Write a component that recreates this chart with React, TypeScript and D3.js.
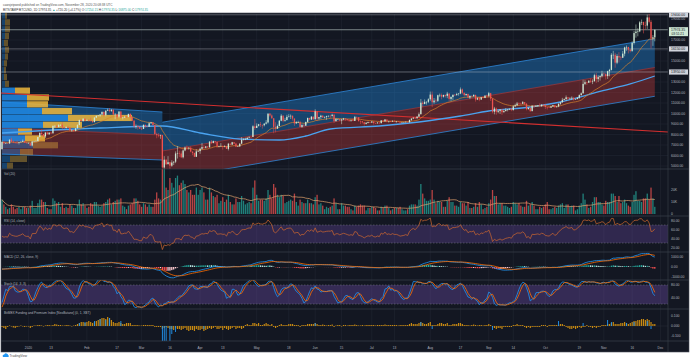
import React from "react";
import * as d3 from "d3";

// ---------------- DATA ----------------
const START = "2019-12-18";
const FIRST_OPEN = 6610;
// closes Nov 15 - Dec 17 2019 (indicator warm-up, not drawn)
const warmupCloses = [8480,8500,8450,8180,8120,8080,7620,7280,7330,6910,7130,7170,7520,7430,7760,7560,
  7420,7320,7300,7200,7400,7540,7510,7520,7340,7220,7200,7190,7250,7070,7110,6880,6610];

const closes = [
  7280,7150,7190,7145,7510,7320,7250,7200,7190,7250,7300,7390,7220,7170,
  7180,6950,7340,7350,7355,7760,8150,8050,7820,8190,8020,8180,8110,8810,8820,8720,8900,8910,8700,8630,8720,8660,8390,8430,8330,8590,8900,9390,9290,9500,9340,
  9380,9330,9290,9180,9610,9760,9800,9900,10160,9860,10270,10350,10240,10370,9900,9930,9700,10180,9600,9610,9690,9670,9960,9660,9310,8790,8810,8710,8550,
  8530,8920,8760,8750,9070,9150,8900,8040,7940,7900,7940,4860,5600,5170,5360,5030,5330,5410,6190,6200,6190,5830,6480,6760,6680,6740,6370,6250,5880,6390,6420,
  6640,6800,6740,6860,6780,7330,7200,7370,7300,6870,6890,6920,6850,6860,6630,7120,7030,7260,7130,6850,6860,7130,7500,7540,7550,7700,7780,7760,8780,8620,
  8830,8970,8900,8880,9030,9150,9990,9810,9540,8730,8560,8810,9310,9790,9310,9380,9680,9730,9780,9510,9060,9170,9180,8720,8900,8840,9200,9570,9430,9700,9450,
  10200,9520,9660,9790,9620,9670,9750,9780,9770,9880,9270,9470,9480,9340,9430,9520,9460,9380,9300,9360,9290,9680,9630,9290,9250,9160,9010,9110,9190,9140,
  9230,9090,9060,9130,9080,9340,9250,9430,9240,9290,9230,9300,9240,9250,9200,9130,9150,9170,9210,9160,9390,9520,9600,9540,9700,9930,11030,10910,11110,11110,11350,
  11800,11070,11230,11200,11740,11770,11600,11760,11680,11890,11390,11570,11780,11770,11860,11900,12290,11970,11750,11860,11520,11680,11650,11770,11330,11460,11330,11540,11480,11710,11680,
  11930,11410,10170,10470,10160,10250,10370,10120,10230,10340,10390,10440,10330,10680,10790,10950,10940,10930,11080,10920,10420,10530,10230,10740,10690,10730,10770,10700,10840,10780,
  10620,10570,10550,10670,10790,10600,10670,10920,11060,11300,11380,11540,11430,11430,11500,11330,11370,11500,11750,11920,12820,12980,12930,13120,13030,13070,13650,13280,13460,13560,13800,
  13750,13560,14030,14150,15590,15590,14840,15480,15330,15310,15700,16290,16340,16080,15960,16720,17660,17800,17820,18680,18710,18420,18370,19150,18730,17150,17254,17974.35
];

const highs = [
  7430,7380,7220,7190,7520,7690,7440,7270,7430,7270,7370,7520,7400,7300,
  7250,7210,7400,7400,7500,7790,8200,8460,8050,8200,8280,8200,8190,8880,8900,8860,9000,8980,9180,8700,8760,8800,8660,8500,8440,8600,8980,9400,9420,9560,9530,
  9440,9470,9600,9290,9640,9840,9860,9950,10170,10170,10300,10470,10520,10390,10380,10050,9970,10230,10250,9680,9780,9700,9980,10020,9660,9380,8960,8900,8770,
  8760,8950,8910,8840,9150,9170,9190,8910,8170,8130,7980,7960,5940,5630,5940,5360,5550,5440,6390,6900,6460,6400,6590,6850,6960,6790,6860,6290,6260,6600,6520,
  6740,7200,7000,6910,6880,7350,7470,7420,7390,7310,6940,7180,6920,6980,6920,7200,7150,7300,7270,7210,6940,7150,7740,7630,7700,7720,7800,7790,8880,9470,
  9060,9010,9190,8950,9080,9370,9990,10040,9920,9570,9170,8950,9390,9940,9840,9590,9880,9940,9910,9820,9560,9270,9310,9300,8980,9010,9220,9620,9600,9740,9700,
  10400,10230,9680,9880,9850,9720,9790,9800,9880,9980,9950,9560,9500,9490,9500,9580,9560,9480,9390,9400,9420,9770,9700,9670,9330,9280,9200,9190,9230,9210,
  9290,9260,9130,9190,9140,9370,9360,9460,9430,9310,9300,9340,9350,9280,9260,9210,9190,9200,9240,9230,9420,9540,9650,9630,9740,10100,11380,11200,11340,11160,11450,
  12090,12100,11480,11420,11790,11900,11910,11800,11810,12060,11940,11640,11800,11860,11970,11930,12480,12380,11990,11880,11900,11710,11710,11830,11790,11540,11590,11560,11580,11720,11790,
  12060,11960,11460,10630,10560,10350,10400,10430,10350,10520,10400,10480,10570,10790,10940,11100,11050,11030,11180,11080,10990,10580,10550,10790,10770,10780,10790,10960,10860,10850,
  10930,10620,10600,10700,10800,10800,10690,10960,11110,11490,11430,11720,11550,11550,11630,11540,11400,11530,11820,12000,13210,13180,13030,13170,13340,13250,13790,13860,13650,13660,14070,
  13900,13840,14070,14250,15750,15960,15780,15650,15840,15480,15950,16360,16480,16340,16150,16880,17860,18480,18120,18800,18950,18750,18770,19420,19480,18910,17470,17974.35
];

const lows = [
  6560,7040,7100,7110,7130,7260,7170,7130,7150,7060,7250,7280,7200,7150,
  7150,6900,6860,7270,7320,7350,7730,7880,7760,7660,8000,7970,8050,8100,8590,8600,8680,8810,8480,8520,8560,8630,8300,8240,8270,8300,8580,8880,9240,9200,9240,
  9310,9230,9230,9110,9160,9560,9720,9680,9880,9720,9720,10250,10100,10150,9840,9460,9460,9600,9600,9420,9580,9570,9650,9510,9270,8630,8550,8460,8530,
  8420,8520,8660,8680,8740,9010,8860,8000,7640,7730,7590,4410,3850,5090,5180,4440,4930,5090,5270,5710,5860,5750,5720,6400,6520,6550,6300,6030,5870,5860,6340,
  6160,6580,6620,6680,6700,6780,7090,7150,7110,6750,6770,6850,6560,6780,6620,6480,6990,7030,7080,6800,6820,6850,7080,7430,7460,7530,7660,7680,7740,8440,
  8620,8760,8710,8560,8770,8950,9050,9700,9510,8120,8200,8550,8780,9260,9150,9220,9330,9620,9470,9320,8820,9020,9090,8700,8640,8700,8820,9110,9340,9380,9390,
  9420,9270,9390,9460,9590,9530,9400,9640,9570,9700,9100,9240,9380,9270,8980,9370,9300,9280,9210,9220,9280,9280,9580,9220,9000,9050,8850,8960,9060,9090,
  9090,8940,9040,9050,8990,9060,9220,9230,9160,9130,9190,9200,9200,9120,9170,9010,9090,9120,9120,9140,9150,9290,9460,9480,9520,9650,9920,10600,10880,10850,10990,
  11200,10600,10930,11000,11100,11560,11350,11520,11520,11460,11150,11190,11280,11660,11680,11700,11840,11830,11600,11690,11490,11370,11520,11600,11130,11280,11170,11290,11440,11460,11560,
  11530,11180,10020,9920,9880,10030,9960,9870,10100,10200,10200,10330,10220,10270,10640,10700,10770,10820,10890,10800,10300,10370,10150,10200,10560,10640,10620,10680,10640,10680,
  10430,10380,10520,10540,10640,10550,10580,10600,10830,11050,11270,11200,11300,11310,11270,11220,11300,11360,11400,11700,11900,12700,12720,12900,12910,12800,13050,12920,12990,13130,13430,
  13610,13230,13290,13540,14100,15180,14360,14700,14850,15080,15280,15450,15980,15720,15810,15870,16570,17220,17350,17740,18420,17630,18000,18050,18580,16200,16440,16875
];

// daily volume (thousand BTC)
const volumes = [
  12,8,6,4,5,8,6,4,5,6,4,6,6,5,
  5,7,11,5,5,9,12,12,10,10,5,4,4,13,11,9,10,6,9,5,6,5,8,7,5,5,8,12,8,9,7,
  5,6,9,8,10,10,7,6,7,9,10,12,13,8,10,11,12,12,13,7,6,4,7,8,9,13,13,11,8,
  6,9,8,6,8,6,6,12,18,13,12,38,42,22,20,30,26,22,30,32,24,26,28,25,20,18,20,16,16,22,16,
  20,22,18,12,12,22,18,15,14,16,9,11,14,10,12,16,10,8,8,13,10,10,15,11,8,9,10,9,22,28,
  16,11,12,12,11,13,20,16,13,25,22,16,14,16,15,9,10,11,12,11,17,10,7,12,10,9,9,12,9,9,8,
  14,16,8,9,7,4,6,5,6,7,13,9,4,4,9,7,7,6,6,4,3,7,6,7,8,7,7,3,5,5,
  6,6,5,3,3,6,5,7,7,5,3,4,5,5,5,6,4,3,3,4,7,8,8,8,7,12,25,17,13,11,11,
  12,20,12,9,11,10,10,6,6,11,14,10,10,7,7,6,10,9,9,7,10,5,5,6,9,6,10,8,4,5,6,
  9,12,20,15,15,8,9,9,7,7,6,5,6,10,9,8,9,7,6,6,11,7,8,10,7,4,4,6,5,6,
  8,10,4,4,5,6,5,7,8,9,5,8,8,6,7,7,3,4,7,9,17,12,8,5,6,10,14,14,10,10,8,
  7,11,10,10,17,17,15,10,15,9,10,12,9,7,6,10,16,19,11,11,10,13,13,17,12,22,13,6
];

// BitMEX funding rate (thousandths of a percent)
const funding = [
  -10,-20,-30,-10,5,-5,-15,-20,-10,-5,5,-5,-10,-5,
  -5,-20,-10,5,5,10,10,5,-5,5,10,10,5,10,20,15,10,10,5,5,10,10,5,-5,5,10,20,30,40,40,30,
  40,50,40,30,40,50,60,70,80,80,70,90,80,60,40,30,30,40,30,20,20,30,30,30,10,10,10,10,5,
  5,10,10,10,10,10,10,-10,-10,-10,-10,-30,-20,-10,-20,-30,-30,-40,-20,-30,-30,-40,-30,-20,-40,-50,-40,-40,-50,-30,-40,
  -40,-30,-50,-40,-30,-20,-30,-20,-10,-30,-30,-20,-40,-20,-30,-40,-30,-20,-10,-30,-20,-20,-30,-20,10,20,10,10,30,30,
  20,30,10,10,20,30,20,10,20,-10,-20,-10,10,20,10,10,10,20,20,20,10,10,10,-10,10,10,10,20,20,20,20,
  30,20,10,10,15,10,5,10,10,15,-10,5,10,10,-5,10,10,5,10,10,10,15,10,5,5,10,5,10,10,10,
  10,10,5,10,10,10,10,15,10,10,10,10,10,10,5,10,10,10,10,10,20,30,20,20,20,30,40,30,20,20,30,
  40,10,10,10,20,30,30,20,20,30,10,10,20,20,20,30,30,20,10,10,10,5,10,15,10,5,10,10,5,10,10,
  20,10,-10,-20,-30,-20,-20,-30,-10,-10,-10,-10,-10,10,10,20,10,10,10,-10,-20,-10,-20,-10,-10,-10,-10,-10,10,10,
  10,-10,10,10,10,10,10,10,20,20,10,-10,-20,-30,-30,-20,-30,-20,-10,-20,-10,-10,10,-10,-10,-20,-10,-20,-10,-10,10,
  10,10,20,20,30,40,20,20,20,30,30,40,30,20,30,40,50,50,60,60,70,70,60,70,60,40,20,20
];

// premium index (sparse)
const premiumDates = ["2020-01-28","2020-01-31","2020-02-05","2020-02-08","2020-02-11","2020-02-13","2020-02-19",
  "2020-03-12","2020-03-13","2020-03-14","2020-03-16","2020-03-17","2020-03-19","2020-04-03","2020-06-01",
  "2020-07-27","2020-08-02","2020-09-03","2020-10-08","2020-10-21","2020-11-03","2020-11-05","2020-11-13",
  "2020-11-17","2020-11-24","2020-11-26"];
const premiumValues = [30,40,50,70,60,80,50,-180,-200,-170,-150,-80,-60,-30,30,40,-30,-40,50,30,60,40,30,40,50,-30];

// visible-range volume profile
const PROFILE_STEP = 650;
const profileLow = [4700,5350,6000,6650,7300,7950,8600,9250,9900,10550,11200,11850,12500,13150,13800,14450,15100,15750,16400,17050,17700,18350,19000];
const profileUp =   [5,8,18,31,23,16,41,66,40,25,25,13,3,2,2,2,3,3,2,3,3,3,3];
const profileDown = [6,17,13,25,20,14,39,64,30,21,22,15,4,3,2,3,3,4,4,4,5,5,2];
const valueArea = [7300, 12500];

// long moving average (as drawn)
const maLongDates = ["2019-12-18","2020-01-14","2020-02-08","2020-03-12","2020-04-01","2020-04-22","2020-05-13","2020-05-27",
  "2020-06-09","2020-07-05","2020-07-26","2020-08-17","2020-09-01","2020-09-23","2020-10-09","2020-10-31","2020-11-15","2020-11-28"];
const maLongValues = [8143,8429,8619,8810,8143,7571,7476,7857,8524,8810,9190,9762,10238,10619,11095,12143,12810,13571];

// regression channels
const channelFrom = ["2019-12-18","2020-03-12"];
const channelTo = ["2020-03-12","2020-11-28"];
const channelUpper = [[11095,10140],[9170,17120]];
const channelMid = [[8620,7950],[6429,14381]];
const channelLower = [[6140,5570],[3690,11640]];

const trendDates = ["2019-12-17","2020-12-05"];
const trendPrices = [11952, 8238];

const levelPrices = [19400, 16150, 13950];
const levelLabels = ["19400.00", "16150.00", "13950.00"];

const priceTicks = [5000,6000,7000,8000,9000,10000,11000,12000,13000,14000,15000,16000,17000,18000,19000];
const hiddenPriceTicks = [14000,16000,18000];
const timeTicks = [["2020-01-01","2020"],["2020-01-13","13"],["2020-02-01","Feb"],["2020-02-17","17"],["2020-03-01","Mar"],
  ["2020-03-16","16"],["2020-04-01","Apr"],["2020-04-13","13"],["2020-05-01","May"],["2020-05-18","18"],["2020-06-01","Jun"],
  ["2020-06-15","15"],["2020-07-01","Jul"],["2020-07-13","13"],["2020-08-01","Aug"],["2020-08-17","17"],["2020-09-01","Sep"],
  ["2020-09-14","14"],["2020-10-01","Oct"],["2020-10-19","19"],["2020-11-01","Nov"],["2020-11-16","16"],["2020-12-01","Dec"]];
const volTicks = [0, 10, 20];
const volTickLabels = ["0", "10K", "20K"];
const rsiTicks = [20, 40, 60, 80];
const macdTicks = [-1000, 0, 1000];
const stochTicks = [40, 80];
const fundTicks = [-100, 0, 100];
const fundTickLabels = ["-0.100", "0.000", "0.100"];

// ---------------- HELPERS ----------------
const parse = d3.timeParse("%Y-%m-%d");
const FONT = "Liberation Sans, Arial, sans-serif";
const BG = "#131722";
const GRID = "#222633";
const SEP = "#3b3f4b";
const AXT = "#b2b5be";
const UP = "#cfe8d5";
const DOWN = "#ef5350";

function ema(a: number[], p: number) {
  const k = 2 / (p + 1);
  const out: number[] = [];
  a.forEach((v, i) => out.push(i === 0 ? v : v * k + out[i - 1] * (1 - k)));
  return out;
}
function sma(a: number[], p: number) {
  return a.map((_, i) => {
    const s = a.slice(Math.max(0, i - p + 1), i + 1);
    return d3.mean(s) as number;
  });
}
function rsi(a: number[], p: number) {
  const out: (number | null)[] = [null];
  let g = 0, l = 0;
  for (let i = 1; i < a.length; i++) {
    const ch = a[i] - a[i - 1];
    const up = Math.max(ch, 0), dn = Math.max(-ch, 0);
    if (i <= p) { g += up / p; l += dn / p; }
    else { g = (g * (p - 1) + up) / p; l = (l * (p - 1) + dn) / p; }
    out.push(i < p ? null : (l === 0 ? 100 : 100 - 100 / (1 + g / l)));
  }
  return out;
}

export default function App() {
  const n = closes.length;
  const start = parse(START)!;
  const dates = d3.range(n).map((i) => d3.timeDay.offset(start, i));
  const opens = closes.map((c, i) => (i === 0 ? FIRST_OPEN : closes[i - 1]));

  const X0 = 1, X1 = 668, AXR = 689;
  const P = { top: 13, main: 169, vol: 216, rsi: 252, macd: 280, stoch: 309, fund: 341, time: 352 };

  const x = d3.scaleTime().domain([parse("2019-12-18")!, parse("2020-12-05")!]).range([2, 668]);
  const yP = d3.scaleLinear().domain([4714, 19571]).range([169, 13]);
  const yV = d3.scaleLinear().domain([0, 37.5]).range([214, 169]);
  const yR = d3.scaleLinear().domain([30, 70]).range([243, 225]);
  const yM = d3.scaleLinear().domain([-1000, 1000]).range([277, 257]);
  const yS = d3.scaleLinear().domain([20, 80]).range([304, 285]);
  const yF = d3.scaleLinear().domain([-100, 100]).range([336, 316]);
  const wP = d3.scaleLinear().domain([0, 1]).range([0, 1]);

  // indicators
  const W0 = warmupCloses.length;
  const fullC = warmupCloses.concat(closes);
  const fullH = warmupCloses.concat(highs);
  const fullL = warmupCloses.concat(lows);
  const ema20 = ema(fullC, 20).slice(W0);
  const rsiV = rsi(fullC, 14).slice(W0);
  const e12 = ema(fullC, 12), e26 = ema(fullC, 26);
  const macdFull = e12.map((v, i) => v - e26[i]);
  const sigFull = ema(macdFull, 9);
  const macdV = macdFull.slice(W0), sigV = sigFull.slice(W0);
  const histFull = macdFull.map((v, i) => v - sigFull[i]);
  const hist = histFull.slice(W0);
  const rawK = fullC.map((c, i) => {
    const hh = d3.max(fullH.slice(Math.max(0, i - 13), i + 1)) as number;
    const ll = d3.min(fullL.slice(Math.max(0, i - 13), i + 1)) as number;
    return hh === ll ? 50 : ((c - ll) / (hh - ll)) * 100;
  });
  const kFull = sma(rawK, 3);
  const dFull = sma(kFull, 3);
  const kV = kFull.slice(W0), dV = dFull.slice(W0);
  const volMA = sma(volumes, 20);

  const line = (ys: (number | null)[], sc: d3.ScaleLinear<number, number>) =>
    d3.line<number>().defined((i) => ys[i] != null).x((i) => x(dates[i])).y((i) => sc(ys[i] as number))(d3.range(n)) || "";

  const bw = 1.3;
  const ticksX = timeTicks.map(([d, l]) => ({ x: x(parse(d)!), l }));

  const maLongPath = d3.line<number>().curve(d3.curveMonotoneX)
    .x((i) => x(parse(maLongDates[i])!)).y((i) => yP(maLongValues[i]))(d3.range(maLongDates.length)) || "";

  const clip = (id: string, y0: number, y1: number) => (
    <clipPath id={id}><rect x={X0} y={y0} width={X1 - X0} height={y1 - y0} /></clipPath>
  );

  const grid = (y0: number, y1: number) =>
    ticksX.map((t, i) => <line key={i} x1={t.x} x2={t.x} y1={y0} y2={y1} stroke={GRID} strokeWidth={0.6} />);

  const axLabel = (y: number, t: string, k: string | number) => (
    <text key={k} x={671} y={y + 1.2} fontSize={3.4} fill={AXT} fontFamily={FONT}>{t}</text>
  );

  const paneTitle = (y: number, t: string) => (
    <text x={4} y={y} fontSize={3.2} fill={AXT} fontFamily={FONT}>{t}</text>
  );

  const lastUp = closes[n - 1] >= opens[n - 1];

  return (
    <svg width={690} height={360} style={{ position: "absolute", left: 0, top: 0, background: "#fff" }}>
      <defs>
        {clip("cMain", P.top, P.main)}
        {clip("cVol", P.main, P.vol)}
        {clip("cRsi", P.vol, P.rsi)}
        {clip("cMacd", P.rsi, P.macd)}
        {clip("cSt", P.macd, P.stoch)}
        {clip("cF", P.stoch, P.fund)}
      </defs>
      <rect width={690} height={360} fill="#fff" />
      {/* header */}
      <text x={3} y={6} fontSize={3.1} fill="#555" fontFamily={FONT}>cawsjetpwed published on TradingView.com, November 28, 2020 20:08:38 UTC</text>
      <text x={3} y={11} fontSize={3.1} fill="#333" fontFamily={FONT}>
        <tspan>BITSTAMP:BTCUSD, 1D  17974.35 </tspan>
        <tspan fill="#26a69a">▲</tspan>
        <tspan> +720.20 (+4.17%)  O:</tspan>
        <tspan fill="#26a69a">17254.15</tspan><tspan> H:</tspan>
        <tspan fill="#26a69a">17974.35</tspan><tspan> L:</tspan>
        <tspan fill="#26a69a">16875.00</tspan><tspan> C:</tspan>
        <tspan fill="#26a69a">17974.35</tspan>
      </text>

      {/* panel */}
      <rect x={X0} y={P.top} width={AXR - X0} height={P.time - P.top} fill={BG} stroke="#4a4e5a" strokeWidth={0.6} />

      {/* ---------- main pane ---------- */}
      <g>
        {grid(P.top, P.main)}
        {priceTicks.map((p) => (
          <line key={p} x1={X0} x2={X1} y1={yP(p)} y2={yP(p)} stroke={GRID} strokeWidth={0.6} />
        ))}
      </g>
      <g clipPath="url(#cMain)">
        {channelFrom.map((f, i) => {
          const xa = x(parse(f)!), xb = x(parse(channelTo[i])!);
          const u = channelUpper[i], m = channelMid[i], lo = channelLower[i];
          return (
            <g key={i}>
              <path d={`M${xa},${yP(u[0])}L${xb},${yP(u[1])}L${xb},${yP(m[1])}L${xa},${yP(m[0])}Z`} fill="rgba(33,150,243,0.36)" />
              <path d={`M${xa},${yP(m[0])}L${xb},${yP(m[1])}L${xb},${yP(lo[1])}L${xa},${yP(lo[0])}Z`} fill="rgba(205,60,60,0.36)" />
              <line x1={xa} x2={xb} y1={yP(u[0])} y2={yP(u[1])} stroke="#2f86d8" strokeWidth={0.8} />
              <line x1={xa} x2={xb} y1={yP(lo[0])} y2={yP(lo[1])} stroke="#2f86d8" strokeWidth={0.8} />
              <line x1={xa} x2={xb} y1={yP(m[0])} y2={yP(m[1])} stroke="#b73a3a" strokeWidth={0.6} />
            </g>
          );
        })}
        {/* volume profile */}
        {profileLow.map((lo, i) => {
          const inVA = lo >= valueArea[0] && lo < valueArea[1];
          const yTop = yP(lo + PROFILE_STEP) + 0.3;
          const h = yP(lo) - yP(lo + PROFILE_STEP) - 0.6;
          return (
            <g key={i}>
              <rect x={2} y={yTop} width={wP(profileUp[i])} height={h} fill={inVA ? "rgba(30,136,229,0.85)" : "rgba(30,136,229,0.38)"} />
              <rect x={2 + wP(profileUp[i])} y={yTop} width={wP(profileDown[i])} height={h} fill={inVA ? "rgba(232,180,60,0.88)" : "rgba(232,180,60,0.38)"} />
            </g>
          );
        })}
        {/* trend line */}
        <line x1={x(parse(trendDates[0])!)} x2={x(parse(trendDates[1])!)} y1={yP(trendPrices[0])} y2={yP(trendPrices[1])} stroke="#d32f2f" strokeWidth={1.1} />
        {/* levels */}
        {levelPrices.map((p, i) => (
          <line key={i} x1={X0} x2={X1} y1={yP(p)} y2={yP(p)} stroke="rgba(200,203,210,0.55)" strokeWidth={0.7} />
        ))}
        <line x1={X0} x2={X1} y1={yP(closes[n - 1])} y2={yP(closes[n - 1])} stroke="rgba(210,225,215,0.75)" strokeWidth={0.7} />
        {/* moving averages */}
        <path d={maLongPath} fill="none" stroke="#4aa3f0" strokeWidth={1.3} />
        <path d={line(ema20, yP)} fill="none" stroke="#d9822b" strokeWidth={0.7} />
        {/* candles */}
        {closes.map((c, i) => {
          const o = opens[i];
          const up = c >= o;
          const col = up ? UP : DOWN;
          const cx = x(dates[i]);
          const hi = Math.max(highs[i], o, c), lo = Math.min(lows[i], o, c);
          const y0 = yP(Math.max(o, c)), y1 = yP(Math.min(o, c));
          return (
            <g key={i}>
              <line x1={cx} x2={cx} y1={yP(hi)} y2={yP(lo)} stroke={col} strokeWidth={0.5} />
              <rect x={cx - bw / 2} y={y0} width={bw} height={Math.max(0.5, y1 - y0)} fill={col} />
            </g>
          );
        })}
      </g>

      {/* ---------- volume pane ---------- */}
      {grid(P.main, P.vol)}
      {paneTitle(175, "Vol (20)")}
      <g clipPath="url(#cVol)">
        {volumes.map((v, i) => {
          const up = closes[i] >= opens[i];
          const cx = x(dates[i]);
          return <rect key={i} x={cx - bw / 2} y={yV(v)} width={bw} height={yV(0) - yV(v)} fill={up ? "rgba(38,166,154,0.75)" : "rgba(239,83,80,0.75)"} />;
        })}
        <path d={line(volMA, yV)} fill="none" stroke="#e3a36f" strokeWidth={0.7} />
      </g>

      {/* ---------- RSI ---------- */}
      {grid(P.vol, P.rsi)}
      <rect x={X0} y={yR(70)} width={X1 - X0} height={yR(30) - yR(70)} fill="rgba(126,87,194,0.28)" />
      <line x1={X0} x2={X1} y1={yR(70)} y2={yR(70)} stroke="#787b86" strokeWidth={0.5} strokeDasharray="1.5,1.5" />
      <line x1={X0} x2={X1} y1={yR(30)} y2={yR(30)} stroke="#787b86" strokeWidth={0.5} strokeDasharray="1.5,1.5" />
      {paneTitle(222, "RSI (14, close)")}
      <g clipPath="url(#cRsi)">
        <path d={line(rsiV, yR)} fill="none" stroke="#d2692e" strokeWidth={0.7} />
      </g>

      {/* ---------- MACD ---------- */}
      {grid(P.rsi, P.macd)}
      {paneTitle(257.5, "MACD (12, 26, close, 9)")}
      <g clipPath="url(#cMacd)">
        {hist.map((h, i) => {
          const prev = histFull[W0 + i - 1];
          const col = h >= 0 ? (h >= prev ? "#26a69a" : "#b2dfdb") : (h < prev ? "#ff5252" : "#ffcdd2");
          const cx = x(dates[i]);
          return <rect key={i} x={cx - bw / 2} y={Math.min(yM(h), yM(0))} width={bw} height={Math.abs(yM(h) - yM(0))} fill={col} />;
        })}
        <path d={line(macdV, yM)} fill="none" stroke="#2196f3" strokeWidth={0.8} />
        <path d={line(sigV, yM)} fill="none" stroke="#ff6d00" strokeWidth={0.8} />
      </g>

      {/* ---------- Stoch ---------- */}
      {grid(P.macd, P.stoch)}
      <rect x={X0} y={yS(80)} width={X1 - X0} height={yS(20) - yS(80)} fill="rgba(126,87,194,0.32)" />
      <line x1={X0} x2={X1} y1={yS(80)} y2={yS(80)} stroke="#787b86" strokeWidth={0.5} strokeDasharray="1.5,1.5" />
      <line x1={X0} x2={X1} y1={yS(20)} y2={yS(20)} stroke="#787b86" strokeWidth={0.5} strokeDasharray="1.5,1.5" />
      {paneTitle(284.5, "Stoch (14, 3, 3)")}
      <g clipPath="url(#cSt)">
        <path d={line(kV, yS)} fill="none" stroke="#2196f3" strokeWidth={0.8} />
        <path d={line(dV, yS)} fill="none" stroke="#ff6d00" strokeWidth={0.8} />
      </g>

      {/* ---------- Funding ---------- */}
      {grid(P.stoch, P.fund)}
      {paneTitle(314, "BitMEX Funding and Premium Index [NeoButane] (0, 1, XBT)")}
      <g clipPath="url(#cF)">
        <line x1={X0} x2={X1} y1={yF(0)} y2={yF(0)} stroke="#2a2e39" strokeWidth={0.5} />
        {funding.map((v, i) => {
          const cx = x(dates[i]);
          return <rect key={i} x={cx - 0.6} y={Math.min(yF(v), yF(0))} width={1.2} height={Math.abs(yF(v) - yF(0))} fill="#c88a12" />;
        })}
        {premiumDates.map((d, i) => {
          const cx = x(parse(d)!);
          const v = premiumValues[i];
          return <rect key={i} x={cx - 0.45} y={Math.min(yF(v), yF(0))} width={0.9} height={Math.abs(yF(v) - yF(0))} fill="#2196f3" />;
        })}
      </g>

      {/* separators */}
      {[P.main, P.vol, P.rsi, P.macd, P.stoch, P.fund].map((y) => (
        <line key={y} x1={X0} x2={AXR} y1={y} y2={y} stroke={SEP} strokeWidth={0.7} />
      ))}
      <line x1={X1} x2={X1} y1={P.top} y2={P.time} stroke={SEP} strokeWidth={0.6} />

      {/* price axis labels */}
      {priceTicks.filter((p) => !hiddenPriceTicks.includes(p)).map((p) => axLabel(yP(p), p.toFixed(2), "p" + p))}
      {levelPrices.map((p, i) => (
        <g key={"lv" + i}>
          <rect x={669} y={yP(p) - 2.6} width={19} height={5.2} fill="#d1d4dc" />
          <text x={671} y={yP(p) + 1.2} fontSize={3.4} fill="#131722" fontFamily={FONT}>{levelLabels[i]}</text>
        </g>
      ))}
      <rect x={669} y={yP(closes[n - 1]) - 2.6} width={19} height={9} fill={lastUp ? UP : DOWN} />
      <text x={671} y={yP(closes[n - 1]) + 1.2} fontSize={3.4} fill="#131722" fontFamily={FONT}>{closes[n - 1].toFixed(2)}</text>
      <text x={671.5} y={yP(closes[n - 1]) + 5.2} fontSize={3.2} fill="#131722" fontFamily={FONT}>03:51:21</text>

      {volTicks.map((v, i) => axLabel(yV(v), volTickLabels[i], "v" + v))}
      {rsiTicks.map((v) => axLabel(yR(v), v.toFixed(2), "r" + v))}
      {macdTicks.map((v) => axLabel(yM(v), v.toFixed(2), "m" + v))}
      {stochTicks.map((v) => axLabel(yS(v), v.toFixed(2), "s" + v))}
      {fundTicks.map((v, i) => axLabel(yF(v), fundTickLabels[i], "f" + v))}

      {/* time axis */}
      {ticksX.map((t, i) => (
        <text key={i} x={t.x} y={349} fontSize={3.2} fill={AXT} textAnchor="middle" fontFamily={FONT}>{t.l}</text>
      ))}

      {/* footer logo */}
      <path d="M3,357 a1.6,1.6 0 0 1 1.2,-2.6 a2.2,2.2 0 0 1 4,0.6 a1.3,1.3 0 0 1 0.2,2 Z" fill="#2196f3" />
      <text x={9.5} y={357} fontSize={3.2} fill="#4a4a4a" fontFamily={FONT}>TradingView</text>
    </svg>
  );
}
